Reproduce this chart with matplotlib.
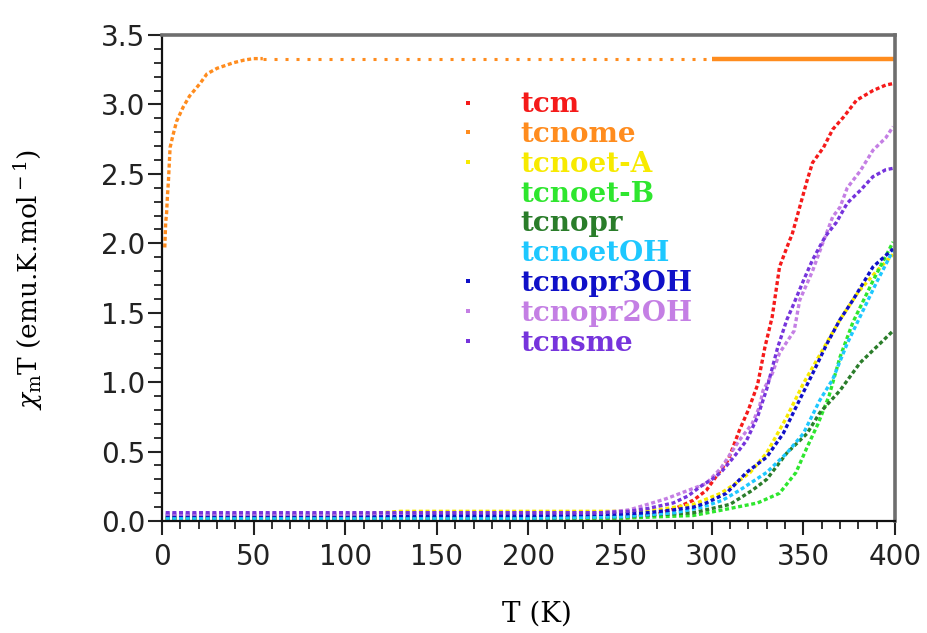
import numpy as np
import matplotlib.pyplot as plt
from matplotlib.lines import Line2D
from matplotlib.ticker import MultipleLocator

plt.rcParams['mathtext.fontset'] = 'dejavuserif'

# chi_m*T (emu.K.mol-1) versus temperature (K)
tcm_t = [2, 20, 50, 80, 100, 120, 150, 180, 200, 230, 250, 260, 270, 280, 290, 297, 304,
         309, 315, 320, 325, 329, 333, 337, 341, 344, 348, 352, 355, 361, 366, 372, 379,
         388, 395, 399]
tcm_y = [0.02, 0.02, 0.02, 0.02, 0.02, 0.02, 0.01, 0.01, 0.01, 0.01, 0.02, 0.03, 0.05,
         0.09, 0.15, 0.22, 0.35, 0.44, 0.65, 0.80, 0.98, 1.25, 1.47, 1.83, 1.97, 2.07,
         2.26, 2.45, 2.58, 2.69, 2.82, 2.91, 3.03, 3.10, 3.14, 3.15]

tcnome_t = [1.5, 2, 2.5, 3, 3.5, 4.4, 6, 8, 11.5, 15, 20.7, 24.5, 30, 38.9, 45, 50, 55,
            300, 400]
tcnome_y = [1.97, 2.15, 2.22, 2.35, 2.45, 2.69, 2.78, 2.88, 2.98, 3.06, 3.15, 3.22, 3.26,
            3.30, 3.32, 3.33, 3.33, 3.33, 3.33]

tcnoetA_t = [2, 50, 100, 130, 150, 200, 250, 270, 290, 305, 313, 321, 330, 341, 350, 360,
             370, 380, 390, 399]
tcnoetA_y = [0.03, 0.03, 0.04, 0.07, 0.07, 0.07, 0.07, 0.08, 0.12, 0.20, 0.27, 0.35, 0.49,
             0.75, 0.99, 1.22, 1.45, 1.65, 1.80, 1.92]

tcnoetB_t = [2, 50, 100, 150, 200, 250, 290, 306, 325, 337, 346, 352, 358, 364, 370, 377,
             388, 399]
tcnoetB_y = [0.02, 0.02, 0.02, 0.02, 0.02, 0.02, 0.04, 0.08, 0.13, 0.20, 0.35, 0.53, 0.70,
             0.90, 1.18, 1.43, 1.73, 2.01]

tcnopr_t = [2, 50, 100, 150, 200, 250, 290, 310, 322, 330, 341, 352, 359, 370, 381, 392, 399]
tcnopr_y = [0.02, 0.02, 0.02, 0.02, 0.02, 0.03, 0.06, 0.12, 0.22, 0.30, 0.49, 0.63, 0.78,
            0.94, 1.14, 1.28, 1.37]

tcnoetOH_t = [2, 50, 100, 150, 200, 250, 280, 295, 306, 315, 330, 341, 350, 359, 366, 374,
              382, 390, 399]
tcnoetOH_y = [0.02, 0.02, 0.02, 0.02, 0.02, 0.03, 0.06, 0.10, 0.15, 0.22, 0.35, 0.49, 0.63,
              0.87, 1.02, 1.28, 1.50, 1.72, 1.95]

tcnopr3OH_t = [2, 50, 100, 150, 200, 250, 265, 279, 290, 297, 308, 319, 330, 339, 346, 355,
               363, 370, 377, 388, 399]
tcnopr3OH_y = [0.04, 0.04, 0.04, 0.04, 0.04, 0.05, 0.06, 0.08, 0.10, 0.13, 0.20, 0.35, 0.46,
               0.63, 0.82, 1.06, 1.28, 1.45, 1.59, 1.83, 1.96]

tcnopr2OH_t = [2, 50, 100, 150, 200, 240, 255, 265, 275, 285, 297, 305, 315, 322, 326, 328,
               333, 337, 345, 348, 355, 360, 366, 370, 374, 381, 388, 395, 399]
tcnopr2OH_y = [0.05, 0.05, 0.05, 0.06, 0.06, 0.06, 0.08, 0.12, 0.16, 0.21, 0.27, 0.38, 0.58,
               0.70, 0.82, 0.94, 1.06, 1.21, 1.37, 1.59, 1.80, 1.98, 2.19, 2.26, 2.40, 2.52,
               2.67, 2.76, 2.84]

tcnsme_t = [2, 50, 100, 150, 200, 240, 255, 265, 279, 287, 294, 300, 305, 312, 319, 325, 330,
            336, 341, 344, 350, 355, 362, 368, 374, 381, 388, 395, 399]
tcnsme_y = [0.06, 0.06, 0.06, 0.06, 0.06, 0.06, 0.07, 0.09, 0.13, 0.18, 0.25, 0.30, 0.35,
            0.46, 0.58, 0.75, 0.95, 1.25, 1.45, 1.54, 1.73, 1.88, 2.05, 2.15, 2.29, 2.38,
            2.48, 2.53, 2.54]

names = ['tcm', 'tcnome', 'tcnoet-A', 'tcnoet-B', 'tcnopr', 'tcnoetOH',
         'tcnopr3OH', 'tcnopr2OH', 'tcnsme']
colors = ['#f51a1a', '#ff8c1e', '#f7ea00', '#2ee62e', '#2a7d2a', '#1ec8ff',
          '#1010c8', '#c47fe4', '#7634dc']
key_shown = [True, True, True, False, False, False, True, True, True]

fig = plt.figure(figsize=(9.28, 6.33), dpi=100)
ax = fig.add_axes([0.1746, 0.1769, 0.7898, 0.7678])

dots = (0, (1.2, 0.8))
series = [(tcm_t, tcm_y), None, (tcnoetA_t, tcnoetA_y), (tcnoetB_t, tcnoetB_y),
          (tcnopr_t, tcnopr_y), (tcnoetOH_t, tcnoetOH_y), (tcnopr3OH_t, tcnopr3OH_y),
          (tcnopr2OH_t, tcnopr2OH_y), (tcnsme_t, tcnsme_y)]
for s, c in zip(series, colors):
    if s is None:
        continue
    ax.plot(s[0], s[1], color=c, lw=2.4, ls=dots, solid_capstyle='butt')

# tcnome: dense rise, sparse plateau, dense high-T run
ot = np.array(tcnome_t)
oy = np.array(tcnome_y)
rise = ot <= 55
plateau = (ot >= 55) & (ot <= 300)
high = ot >= 300
ax.plot(ot[rise], oy[rise], color=colors[1], lw=2.4, ls=dots)
ax.plot(ot[plateau], oy[plateau], color=colors[1], lw=2.2, ls=(0, (1, 2.6)))
ax.plot(ot[high], oy[high], color=colors[1], lw=3.2, solid_capstyle='butt')

ax.set_xlim(0, 400)
ax.set_ylim(0, 3.5)
ax.xaxis.set_major_locator(MultipleLocator(50))
ax.xaxis.set_minor_locator(MultipleLocator(10))
ax.yaxis.set_major_locator(MultipleLocator(0.5))
ax.yaxis.set_minor_locator(MultipleLocator(0.1))
ax.yaxis.set_major_formatter(lambda v, p: f'{v:.1f}')

for side in ['left', 'bottom']:
    ax.spines[side].set_linewidth(1.6)
    ax.spines[side].set_color('#111111')
for side in ['top', 'right']:
    ax.spines[side].set_linewidth(2.6)
    ax.spines[side].set_color('#6e6e6e')

ax.tick_params(which='major', direction='out', length=10, width=1.5, labelsize=20,
               colors='#222222')
ax.tick_params(which='minor', direction='out', length=6, width=1.3, colors='#222222')
ax.tick_params(axis='y', pad=2)
ax.tick_params(axis='x', pad=6)
for lab in ax.get_xticklabels() + ax.get_yticklabels():
    lab.set_family('DejaVu Sans')

ax.set_xlabel('T (K)', family='DejaVu Serif', fontsize=20)
ax.xaxis.set_label_coords(0.512, -0.163)
ax.set_ylabel(r'$\chi_{\rm m}$T (emu.K.mol$^{\rm -1}$)', family='DejaVu Serif',
              fontsize=19)
ax.yaxis.set_label_coords(-0.159, 0.497)

handles = [Line2D([], [], ls='none', marker='s' if k else '', ms=3, color=c,
                  markeredgewidth=0)
           for c, k in zip(colors, key_shown)]
leg = ax.legend(handles, names, loc='upper left', bbox_to_anchor=(0.402, 0.884),
                frameon=False, handlelength=0.8, handletextpad=1.5, labelspacing=0.1,
                borderpad=0, borderaxespad=0, labelcolor=colors,
                prop={'family': 'DejaVu Serif', 'weight': 'bold', 'size': 20})

fig.savefig('out.png', dpi=100)
